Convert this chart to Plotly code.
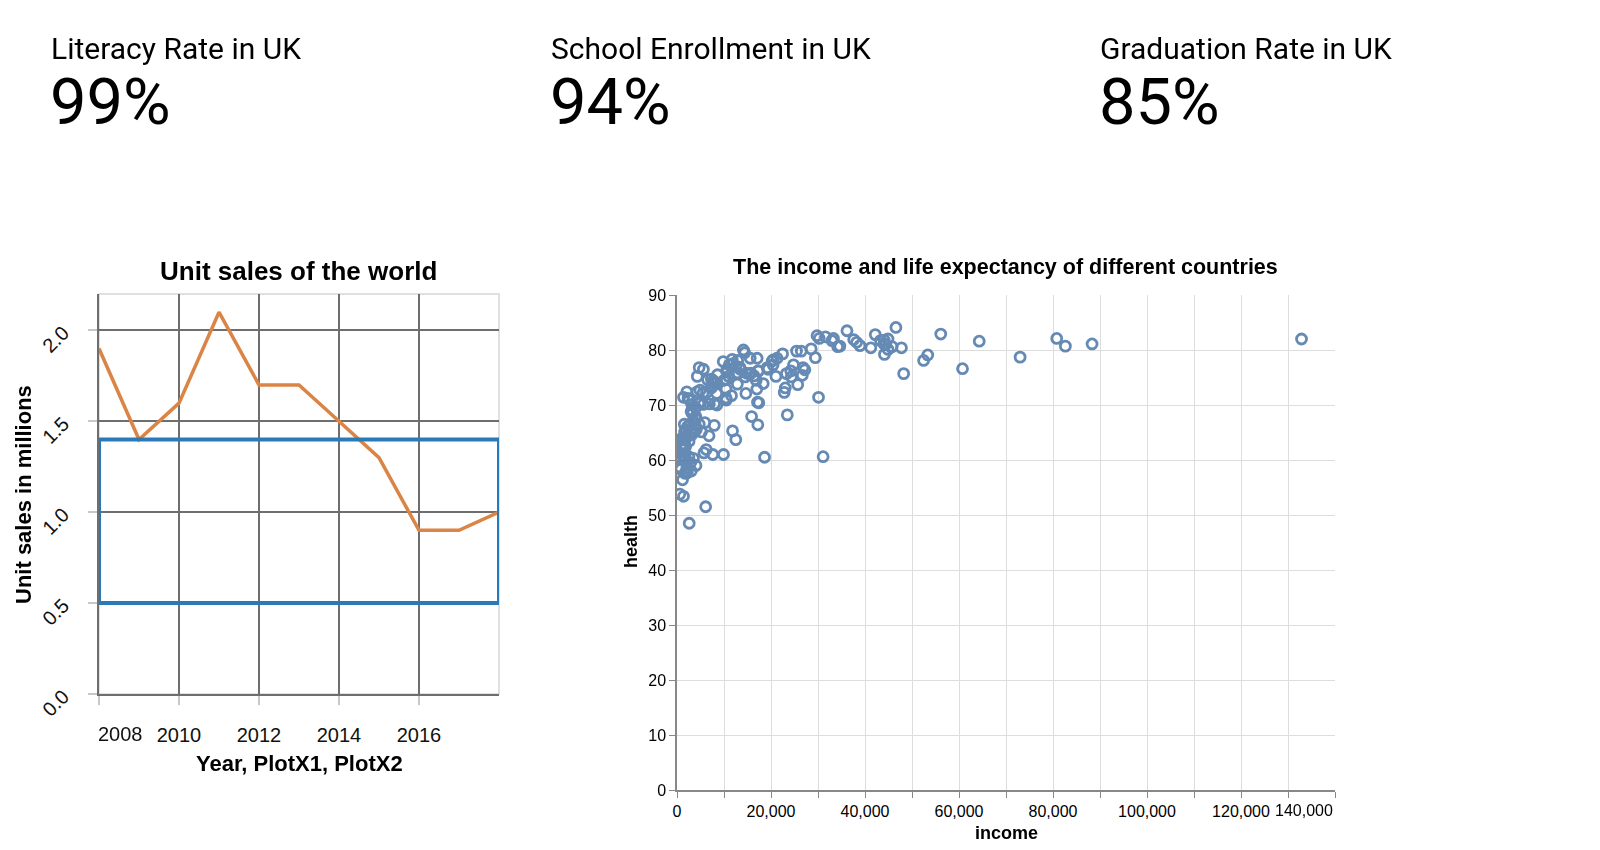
import plotly.graph_objects as go

W, H = 1600, 850

# KPI tiles across the top
kpi_titles = ['Literacy Rate in UK', 'School Enrollment in UK', 'Graduation Rate in UK']
kpi_values = ['99%', '94%', '85%']

# left chart: unit sales per year
years = [2008, 2009, 2010, 2011, 2012, 2013, 2014, 2015, 2016, 2017, 2018]
sales = [1.9, 1.4, 1.6, 2.1, 1.7, 1.7, 1.5, 1.3, 0.9, 0.9, 1.0]
band_low = 0.5
band_high = 1.4
year_ticks = [2008, 2010, 2012, 2014, 2016]
sales_ticks = [0.0, 0.5, 1.0, 1.5, 2.0]

# right chart: income vs health per country
countries = [
    'Qatar', 'Luxembourg', 'Kuwait', 'Singapore', 'Brunei', 'Norway', 'UAE', 'Switzerland',
    'USA', 'Saudi Arabia', 'Oman', 'Ireland', 'Andorra', 'Netherlands', 'Denmark', 'Sweden',
    'Austria', 'Bahrain', 'Australia', 'Germany', 'Canada', 'Iceland', 'Belgium', 'Finland',
    'UK', 'France', 'Japan', 'South Korea', 'New Zealand', 'Italy', 'Spain', 'Israel',
    'Equatorial Guinea', 'Malta', 'Trinidad and Tobago', 'Cyprus', 'Czech Republic', 'Slovenia',
    'Slovak Republic', 'Estonia', 'Lithuania', 'Portugal', 'Seychelles', 'Greece', 'Poland',
    'Malaysia', 'Hungary', 'Kazakhstan', 'Latvia', 'Russia', 'Bahamas', 'Chile', 'Cuba',
    'Antigua and Barbuda', 'Panama', 'Uruguay', 'Croatia', 'Turkey', 'Romania', 'Gabon',
    'Mauritius', 'Belarus', 'Argentina', 'Libya', 'Botswana', 'Suriname', 'Lebanon',
    'Azerbaijan', 'Mexico', 'Bulgaria', 'Turkmenistan', 'Venezuela', 'Iran', 'Brazil',
    'Montenegro', 'Iraq', 'Thailand', 'Maldives', 'Costa Rica', 'Algeria', 'China', 'Barbados',
    'Serbia', 'Dominican Republic', 'Colombia', 'Macedonia', 'South Africa', 'Peru', 'Mongolia',
    'Jordan', 'Grenada', 'Tunisia', 'Ecuador', 'Sri Lanka', 'Albania', 'Indonesia', 'Dominica',
    'Egypt', 'St. Vincent', 'St. Lucia', 'Namibia', 'Bosnia', 'Jamaica', 'Belize', 'Ukraine',
    'Paraguay', 'Bhutan', 'Fiji', 'El Salvador', 'Armenia', 'Angola', 'Georgia', 'Morocco',
    'Guatemala', 'Philippines', 'Guyana', 'Cape Verde', 'Bolivia', 'Congo, Rep.', 'Swaziland',
    'India', 'Nigeria', 'Vietnam', 'Uzbekistan', 'Samoa', 'Lao', 'Tonga', 'Moldova', 'Pakistan',
    'Nicaragua', 'Syria', 'West Bank and Gaza', 'Honduras', 'Ghana', 'Zambia', 'Myanmar', 'Sudan',
    'Yemen', 'Mauritania', 'Marshall Islands', 'Micronesia', "Cote d'Ivoire", 'Cambodia',
    'Kyrgyz Republic', 'Bangladesh', 'Djibouti', 'South Sudan', 'Sao Tome and Principe', 'Vanuatu',
    'Kenya', 'Cameroon', 'Lesotho', 'Tajikistan', 'Tanzania', 'Papua New Guinea', 'Nepal',
    'Senegal', 'Chad', 'Timor-Leste', 'Sierra Leone', 'Solomon Islands', 'Afghanistan', 'Benin',
    'Kiribati', 'Zimbabwe', 'Haiti', 'Mali', 'Uganda', 'Burkina Faso', 'Gambia', 'Rwanda',
    'Ethiopia', 'Comoros', 'Togo', 'Madagascar', 'North Korea', 'Guinea-Bissau', 'Guinea',
    'Mozambique', 'Eritrea', 'Liberia', 'Niger', 'Congo, Dem. Rep.', 'Malawi', 'Burundi',
    'Somalia', 'Central African Republic',
]
income = [
    132877, 88314, 82633, 80794, 73003, 64304, 60749, 56118,
    53354, 52469, 48226, 47758, 46577, 45784, 44916, 44892,
    44401, 44138, 44056, 44053, 43294, 42182, 41240, 38923,
    38225, 37599, 36162, 34644, 34186, 33297, 32979, 31590,
    31087, 30265, 30113, 29797, 29437, 28550,
    27204, 26812, 26665, 26437, 25684, 25430, 24787,
    24320, 24200, 23468, 23282, 23038, 22818, 22465, 21291,
    21049, 20485, 20438, 20260, 19360, 19203, 18627,
    18350, 17415, 17344, 17261, 17196, 17125, 17050,
    16986, 16850, 16371, 15865, 15753, 15573, 15441,
    14833, 14646, 14512, 14408, 14132, 13434, 13334, 12984,
    12908, 12837, 12761, 12547, 12509, 11903, 11819,
    11752, 11593, 11126, 10996, 10624, 10620, 10504, 10503,
    10435, 10435, 9997, 9893, 9833, 8606, 8501, 8449,
    8219, 7983, 7925, 7776, 7763, 7615, 7474, 7319,
    7279, 6876, 6816, 6514, 6295, 6220, 6095,
    5903, 5727, 5623, 5598, 5558, 5212, 5069, 4896, 4743,
    4712, 4637, 4319, 4270, 4099, 4034, 4012, 3975,
    3887, 3877, 3661, 3510, 3491, 3267,
    3245, 3161, 3139, 3047, 3003, 2912,
    2898, 2897, 2598, 2582, 2571, 2529, 2352,
    2251, 2191, 2086, 2085, 2047, 1925, 1830,
    1824, 1801, 1710, 1684, 1680, 1654, 1644, 1549,
    1520, 1472, 1433, 1400, 1390, 1386, 1225,
    1176, 1129, 958, 943, 809, 799, 777,
    624, 599,
]
health = [
    82.0, 81.1, 80.7, 82.1, 78.7, 81.6, 76.6, 82.9,
    79.1, 78.1, 75.7, 80.4, 84.1, 80.6, 80.1, 82.0,
    81.0, 79.2, 81.8, 81.1, 81.7, 82.8, 80.4, 80.8,
    81.4, 81.9, 83.5, 80.7, 80.6, 82.1, 81.7, 82.4,
    60.6, 82.1, 71.4, 82.6, 78.6, 80.2,
    76.4, 76.8, 75.4, 79.8, 73.7, 79.8, 77.3,
    75.1, 76.2, 68.2, 75.7, 73.1, 72.3, 79.3, 78.5,
    75.2, 78.2, 77.3, 78.0, 76.5, 76.8, 60.5,
    73.9, 70.4, 76.2, 76.2, 66.4, 70.5, 78.5,
    72.9, 74.5, 75.3, 67.9, 75.8, 78.5, 75.6,
    75.8, 72.1, 75.1, 79.5, 80.0, 76.5, 76.9, 75.8,
    78.1, 73.8, 75.8, 77.0, 63.7, 77.5, 65.3,
    78.3, 71.7, 77.3, 75.2, 76.5, 76.0, 70.9, 74.6,
    71.3, 72.9, 74.5, 61.0, 77.9, 75.5, 70.0, 72.1,
    73.9, 70.2, 66.3, 74.1, 74.4, 61.0, 73.3, 74.7,
    73.1, 70.2, 64.4, 74.6, 72.3, 61.9, 51.5,
    66.8, 61.3, 76.5, 70.1, 72.2, 65.1, 70.5, 72.7, 66.5,
    76.8, 70.3, 75.2, 72.4, 65.5, 59.0, 67.9, 69.5,
    67.6, 65.7, 65.1, 67.0, 60.3, 68.4,
    69.0, 70.1, 64.6, 58.0, 68.8, 65.0,
    66.6, 59.5, 48.5, 71.0, 63.4, 60.6, 71.2,
    66.1, 57.7, 72.4, 58.5, 64.1, 57.6, 65.5,
    62.4, 60.0, 65.3, 57.6, 60.8, 62.8, 65.1, 66.5,
    63.6, 64.1, 64.2, 62.1, 71.4, 53.4, 60.8,
    56.4, 62.9, 63.9, 62.2, 58.3, 60.2, 60.4,
    58.7, 53.8,
]
income_ticks = list(range(0, 140001, 10000))
health_ticks = list(range(0, 91, 10))


# pixel -> paper helpers (figure pixels, origin top-left)
def px_x(p):
    return p / W


def px_y(p):
    return 1 - p / H


fig = go.Figure()

fig.add_trace(go.Scatter(x=years, y=sales, mode='lines', line=dict(color='#da8445', width=3.5),
                         xaxis='x', yaxis='y', showlegend=False, hoverinfo='x+y'))
fig.add_trace(go.Scatter(x=income, y=health, mode='markers', text=countries,
                         marker=dict(symbol='circle-open', size=10, color='#4a76a8', line=dict(width=2.8)),
                         opacity=0.85, xaxis='x2', yaxis='y2', showlegend=False))

# blue band on the sales chart
fig.add_shape(type='rect', xref='x', yref='y', x0=years[0], x1=years[-1], y0=band_low, y1=band_high,
              line=dict(color='#2a7ab9', width=4), fillcolor='rgba(0,0,0,0)', layer='above')
# light frame on top/right of the sales chart
fig.add_shape(type='rect', xref='x domain', yref='y domain', x0=0, x1=1, y0=0, y1=1,
              line=dict(color='#d6d6d6', width=1.5), layer='below')

dark = '#6e6e6e'
arial = 'Liberation Sans, Arial, sans-serif'

fig.update_layout(
    width=W, height=H, margin=dict(l=0, r=0, t=0, b=0, autoexpand=False),
    paper_bgcolor='white', plot_bgcolor='white',
    font=dict(family=arial, color='#000'),
    xaxis=dict(domain=[px_x(91), px_x(491)], range=[2008, 2018], anchor='y', automargin=False,
               tickvals=year_ticks, ticktext=[''] + [str(y) for y in year_ticks[1:]],
               showgrid=True, gridcolor=dark, gridwidth=1.5, zeroline=False,
               showline=True, linecolor=dark, linewidth=1.5,
               ticks='outside', ticklen=9, tickcolor='#c8c8c8', tickwidth=1.5,
               ticklabelstandoff=13, tickfont=dict(size=20, color='#111')),
    yaxis=dict(domain=[px_y(686), px_y(286)], range=[0, 2.2], anchor='x', automargin=False,
               tickvals=sales_ticks, ticktext=['%.1f' % v for v in sales_ticks], tickangle=-45,
               showgrid=True, gridcolor=dark, gridwidth=1.5, zeroline=False,
               showline=True, linecolor=dark, linewidth=1.5,
               ticks='outside', ticklen=9, tickcolor='#c8c8c8', tickwidth=1.5,
               ticklabelstandoff=21, tickfont=dict(size=20, color='#111')),
    xaxis2=dict(domain=[px_x(669), px_x(1327)], range=[0, 140000], anchor='y2', automargin=False,
                tickvals=income_ticks,
                ticktext=['{:,}'.format(v) if v % 20000 == 0 and v < 140000 else '' for v in income_ticks],
                showgrid=True, gridcolor='#dddddd', gridwidth=1, zeroline=False,
                showline=True, linecolor='#888', linewidth=1.5,
                ticks='outside', ticklen=6, tickcolor='#888', tickwidth=1,
                tickfont=dict(size=16, color='#000')),
    yaxis2=dict(domain=[px_y(782), px_y(287)], range=[0, 90], anchor='x2', automargin=False,
                tickvals=health_ticks,
                showgrid=True, gridcolor='#dddddd', gridwidth=1, zeroline=False,
                showline=True, linecolor='#888', linewidth=1.5,
                ticks='outside', ticklen=6, tickcolor='#888', tickwidth=1,
                tickfont=dict(size=16, color='#000')),
)

ann = []
# KPI tiles
for t, v, x in zip(kpi_titles, kpi_values, [41, 541, 1090]):
    ann.append(dict(text=t, x=px_x(x), y=px_y(41), xref='paper', yref='paper', xanchor='left',
                    yanchor='middle', showarrow=False, font=dict(family='Roboto', size=30, color='#000')))
    ann.append(dict(text=v, x=px_x(x - 1), y=px_y(94), xref='paper', yref='paper', xanchor='left',
                    yanchor='middle', showarrow=False, font=dict(family='Roboto', size=65, color='#000')))

# sales chart titles and the flush first tick label
ann += [
    dict(text='<b>Unit sales of the world</b>', x=px_x(290), y=px_y(263), xref='paper', yref='paper',
         xanchor='center', yanchor='middle', showarrow=False, font=dict(size=26)),
    dict(text='<b>Year, PlotX1, PlotX2</b>', x=px_x(291), y=px_y(755), xref='paper', yref='paper',
         xanchor='center', yanchor='middle', showarrow=False, font=dict(size=22)),
    dict(text='<b>Unit sales in millions</b>', x=px_x(15), y=px_y(487), xref='paper', yref='paper',
         xanchor='center', yanchor='middle', textangle=-90, showarrow=False, font=dict(size=22)),
    dict(text=str(year_ticks[0]), x=year_ticks[0], y=px_y(726), xref='x', yref='paper', xanchor='left',
         xshift=-3, yanchor='middle', showarrow=False, font=dict(size=20, color='#111')),
]
# scatter titles and flush last tick label
ann += [
    dict(text='<b>The income and life expectancy of different countries</b>', x=px_x(997), y=px_y(259),
         xref='paper', yref='paper', xanchor='center', yanchor='middle', showarrow=False, font=dict(size=21.5)),
    dict(text='<b>income</b>', x=px_x(998), y=px_y(825), xref='paper', yref='paper',
         xanchor='center', yanchor='middle', showarrow=False, font=dict(size=18)),
    dict(text='<b>health</b>', x=px_x(623), y=px_y(534), xref='paper', yref='paper', textangle=-90,
         xanchor='center', yanchor='middle', showarrow=False, font=dict(size=18)),
    dict(text='{:,}'.format(income_ticks[-1]), x=income_ticks[-1], y=px_y(802), xref='x2', yref='paper',
         xanchor='right', yanchor='middle', showarrow=False, font=dict(size=16, color='#000')),
]
fig.update_layout(annotations=ann)

fig.write_html("out.html")
